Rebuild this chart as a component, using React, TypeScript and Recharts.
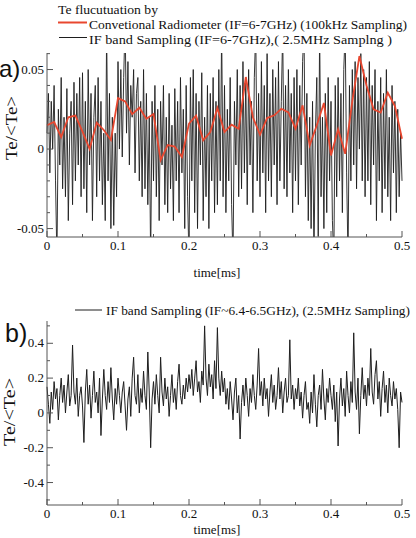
import React from "react";
import { LineChart, Line, XAxis, YAxis } from "recharts";

// panel a) IF band sampling, one value every 0.002 ms
const topNoise = [
  0.01, 0.035, -0.015, 0.03, 0.0, 0.04, -0.02, -0.07, 0.025, -0.01, 0.045, -0.025, 0.02, -0.03, 0.038, -0.045, 0.01, 0.03, -0.035, 0.042, -0.02, 0.035, -0.01, 0.045, -0.03,
  0.048, -0.025, 0.03, -0.04, 0.05, -0.01, 0.035, -0.045, 0.02, 0.04, -0.03, 0.045, -0.02, 0.03, -0.035, 0.01, -0.045, 0.075, -0.02, 0.035, -0.05, 0.02, -0.048, 0.01, -0.03,
  0.055, 0.0, 0.05, -0.005, 0.045, 0.08, 0.01, 0.055, -0.01, 0.04, 0.02, 0.05, -0.015, 0.035, 0.045, -0.02, 0.03, -0.03, 0.05, -0.025, 0.035, -0.035, 0.02, -0.07, 0.03,
  -0.02, 0.04, -0.03, 0.025, -0.045, 0.03, -0.01, 0.04, -0.035, 0.02, -0.04, 0.035, -0.025, 0.015, -0.045, 0.038, -0.02, 0.03, -0.04, 0.045, -0.015, 0.025, -0.05, 0.04, -0.03,
  -0.07, 0.045, -0.02, 0.05, -0.04, 0.035, -0.05, 0.03, -0.01, 0.048, -0.045, 0.02, -0.03, 0.04, -0.05, 0.035, -0.02, 0.045, -0.04, 0.03, -0.035, 0.05, -0.02, 0.075, -0.03,
  0.04, -0.04, 0.025, -0.02, 0.045, -0.035, -0.07, 0.03, -0.01, 0.05, -0.03, 0.04, -0.025, 0.055, -0.015, 0.045, -0.035, 0.05, -0.01, 0.03, -0.04, 0.045, 0.075, -0.02, 0.035,
  -0.03, 0.055, -0.015, 0.04, -0.04, 0.06, -0.02, 0.035, -0.03, 0.05, -0.01, 0.045, -0.035, 0.055, -0.02, 0.03, 0.075, -0.025, 0.04, -0.03, 0.05, -0.015, 0.035, -0.04, 0.045,
  -0.02, 0.05, -0.035, 0.04, -0.01, 0.055, 0.075, -0.03, 0.035, -0.045, 0.02, -0.05, 0.03, -0.07, 0.01, 0.045, -0.055, 0.075, -0.03, 0.02, -0.05, 0.035, -0.04, 0.045, -0.02,
  0.03, -0.045, -0.07, 0.04, -0.03, 0.045, -0.02, 0.035, -0.04, 0.05, 0.075, -0.015, -0.07, 0.04, -0.02, 0.05, -0.01, 0.055, -0.025, 0.045, 0.0, 0.06, -0.02, 0.05, -0.03,
  0.045, -0.02, 0.055, -0.035, 0.04, -0.01, 0.05, -0.045, 0.03, -0.02, 0.045, -0.04, 0.035, -0.025, 0.05, -0.03, 0.02, -0.045, 0.04, -0.015, 0.03, -0.04, 0.025, -0.03, 0.01, -0.02,
];

// panel a) conventional radiometer, one value every 0.01 ms
const radiometer = [
  0.015, 0.017, 0.0075, 0.02, 0.021, 0.011, 0.0, 0.0165, 0.012, 0.0057,
  0.032, 0.03, 0.022, 0.026, 0.019, 0.022, -0.007, 0.0025, 0.0015, -0.005,
  0.016, 0.021, 0.0055, 0.0107, 0.0258, 0.0107, 0.0153, 0.0128, 0.0453, 0.02,
  0.009, 0.0195, 0.0212, 0.0253, 0.023, 0.0128, 0.0275, 0.0023, 0.015, 0.029,
  -0.004, 0.0124, -0.003, 0.03, 0.0585, 0.04, 0.025, 0.023, 0.0354, 0.027, 0.0065,
];

// panel b) IF band sampling (6.4-6.5GHz), one value every 0.002 ms
const bottomNoise = [
  0.15, 0.05, -0.06, 0.12, 0.02, 0.18, 0.08, 0.14, -0.04, 0.1, 0.2, 0.06, 0.16, 0.0, 0.12, 0.22, 0.04, 0.1, 0.39, 0.12, 0.05, 0.2, -0.02, 0.1, 0.15,
  0.04, -0.17, 0.12, 0.25, 0.05, 0.16, -0.03, 0.1, 0.24, 0.06, 0.12, 0.0, 0.2, -0.13, 0.08, 0.25, 0.1, 0.02, 0.18, 0.06, 0.26, 0.08, -0.04, 0.14, 0.05,
  0.2, 0.1, 0.0, 0.12, 0.18, 0.04, -0.1, 0.08, 0.15, -0.02, 0.2, 0.32, 0.1, 0.05, 0.22, 0.0, 0.14, 0.06, 0.24, 0.1, 0.02, 0.35, 0.12, -0.2, 0.08,
  0.18, 0.05, 0.22, 0.1, 0.0, 0.32, 0.12, 0.04, 0.2, 0.08, 0.15, -0.02, 0.1, 0.22, 0.06, 0.14, 0.02, 0.18, 0.28, 0.1, 0.05, 0.16, 0.08, 0.2, 0.12,
  0.22, 0.14, 0.25, 0.1, 0.2, 0.3, 0.12, 0.18, 0.06, 0.24, 0.16, 0.5, 0.2, 0.1, 0.28, 0.15, 0.22, 0.08, 0.3, 0.14, 0.49, 0.2, 0.1, 0.24, 0.12,
  0.2, 0.05, 0.14, 0.02, 0.18, 0.08, -0.04, 0.12, 0.2, 0.0, 0.1, -0.15, 0.06, 0.16, 0.04, 0.2, 0.1, -0.02, 0.14, 0.06, 0.22, 0.1, 0.02, 0.16, 0.37,
  0.1, 0.18, 0.04, 0.2, 0.08, 0.14, -0.02, 0.12, 0.22, 0.06, 0.16, 0.02, 0.1, 0.26, 0.08, 0.18, 0.0, 0.12, 0.2, 0.06, 0.1, 0.42, 0.08, 0.16, 0.02,
  0.14, 0.08, 0.2, 0.04, 0.12, -0.03, 0.1, 0.18, 0.02, 0.06, -0.06, 0.12, 0.0, 0.22, 0.05, -0.08, 0.1, 0.16, 0.02, 0.25, 0.08, -0.04, 0.14, 0.06, 0.2,
  0.1, 0.02, 0.16, -0.05, 0.12, -0.19, 0.08, 0.2, 0.04, 0.14, -0.02, 0.24, 0.1, 0.0, 0.18, 0.06, 0.46, 0.12, 0.02, 0.2, -0.12, 0.1, 0.26, 0.08, 0.16,
  0.04, 0.2, 0.1, 0.37, 0.12, 0.05, 0.22, 0.3, 0.08, 0.18, -0.02, 0.14, 0.24, 0.06, 0.16, 0.0, 0.2, 0.1, 0.04, 0.18, 0.08, 0.14, 0.02, -0.2, 0.12, 0.06,
];

const timeTicks = [0, 0.05, 0.1, 0.15, 0.2, 0.25, 0.3, 0.35, 0.4, 0.45, 0.5];
const topYTicks = [-0.05, -0.04, -0.03, -0.02, -0.01, 0, 0.01, 0.02, 0.03, 0.04, 0.05, 0.06];
const bottomYTicks = [-0.5, -0.4, -0.3, -0.2, -0.1, 0, 0.1, 0.2, 0.3, 0.4, 0.5];

const noiseStep = 0.002;
const radStep = 0.01;

const topNoiseData = topNoise.map((v, i) => ({ t: +(i * noiseStep).toFixed(4), v }));
const radData = radiometer.map((v, i) => ({ t: +(i * radStep).toFixed(4), v }));
const bottomNoiseData = bottomNoise.map((v, i) => ({ t: +(i * noiseStep).toFixed(4), v }));

const SERIF = '"Liberation Serif", "Times New Roman", serif';
const SANS = '"Liberation Sans", Arial, sans-serif';
const AXIS = "#555";
const INK = "#1e1e1e";
const RED = "#e8472f";

const isMultiple = (v: number, step: number) =>
  Math.abs(v / step - Math.round(v / step)) < 1e-6;
const fmt = (v: number) => (Math.abs(v) < 1e-9 ? "0" : String(+v.toFixed(3)));

// inward tick marks, labels outside (labelStep null = marks only)
function makeTick(side: string, majorStep: number, labelStep: number | null) {
  return (props: any) => {
    const { x, y, payload } = props;
    const v = payload.value;
    const len = isMultiple(v, majorStep) ? 6 : 3;
    let x2 = x;
    let y2 = y;
    if (side === "bottom") y2 = y - len;
    else if (side === "top") y2 = y + len;
    else if (side === "left") x2 = x + len;
    else x2 = x - len;
    const show = labelStep !== null && isMultiple(v, labelStep);
    return (
      <g>
        <line x1={x} y1={y} x2={x2} y2={y2} stroke={AXIS} strokeWidth={1} />
        {show && side === "bottom" && (
          <text
            transform={`translate(${x},${y + 13}) scale(1,0.9)`}
            textAnchor="middle"
            fontFamily={SERIF}
            fontSize={13}
            fill="#111"
          >
            {fmt(v)}
          </text>
        )}
        {show && side === "left" && (
          <text
            transform={`translate(${x - 3},${y + 4}) scale(1,0.9)`}
            textAnchor="end"
            fontFamily={SERIF}
            fontSize={13}
            fill="#111"
          >
            {fmt(v)}
          </text>
        )}
      </g>
    );
  };
}

const Frame = ({ yTicks, yDomain, yMajor, yLabel }: any) => [
  <XAxis
    key="xb"
    xAxisId={0}
    type="number"
    dataKey="t"
    domain={[0, 0.5]}
    ticks={timeTicks}
    interval={0}
    height={33}
    tickSize={0}
    tickMargin={0}
    tickLine={false}
    axisLine={{ stroke: AXIS }}
    tick={makeTick("bottom", 0.1, 0.1)}
  />,
  <XAxis
    key="xt"
    xAxisId="top"
    orientation="top"
    type="number"
    dataKey="t"
    domain={[0, 0.5]}
    ticks={timeTicks}
    interval={0}
    height={0}
    tickSize={0}
    tickMargin={0}
    tickLine={false}
    axisLine={{ stroke: AXIS }}
    tick={makeTick("top", 0.1, null)}
  />,
  <YAxis
    key="yl"
    yAxisId={0}
    type="number"
    domain={yDomain}
    allowDataOverflow
    ticks={yTicks}
    interval={0}
    width={47}
    tickSize={0}
    tickMargin={0}
    tickLine={false}
    axisLine={{ stroke: AXIS }}
    tick={makeTick("left", yMajor, yLabel)}
  />,
  <YAxis
    key="yr"
    yAxisId="right"
    orientation="right"
    type="number"
    domain={yDomain}
    allowDataOverflow
    ticks={yTicks}
    interval={0}
    width={0}
    tickSize={0}
    tickMargin={0}
    tickLine={false}
    axisLine={{ stroke: AXIS }}
    tick={makeTick("right", yMajor, null)}
  />,
];

export default function App() {
  return (
    <div
      style={{
        position: "absolute",
        left: 0,
        top: 0,
        width: 416,
        height: 538,
        background: "#fff",
        overflow: "hidden",
      }}
    >
      <div style={{ position: "absolute", left: 0, top: 0 }}>
        <LineChart width={416} height={270} margin={{ top: 53, right: 14, bottom: 0, left: 0 }}>
          {Frame({ yTicks: topYTicks, yDomain: [-0.0553, 0.0604], yMajor: 0.05, yLabel: 0.05 })}
          <Line
            data={topNoiseData}
            dataKey="v"
            stroke={INK}
            strokeWidth={0.9}
            dot={false}
            isAnimationActive={false}
          />
          <Line
            data={radData}
            dataKey="v"
            stroke={RED}
            strokeWidth={1.8}
            dot={false}
            isAnimationActive={false}
          />
        </LineChart>
      </div>
      <div style={{ position: "absolute", left: 0, top: 280 }}>
        <LineChart width={416} height={258} margin={{ top: 41, right: 14, bottom: 0, left: 0 }}>
          {Frame({ yTicks: bottomYTicks, yDomain: [-0.529, 0.528], yMajor: 0.2, yLabel: 0.2 })}
          <Line
            data={bottomNoiseData}
            dataKey="v"
            stroke={INK}
            strokeWidth={1}
            dot={false}
            isAnimationActive={false}
          />
        </LineChart>
      </div>
      <svg
        width={416}
        height={538}
        style={{ position: "absolute", left: 0, top: 0, pointerEvents: "none" }}
      >
        <g fontFamily={SERIF} fill="#111">
          <text x={58} y={14} fontSize={13.5} textLength={100} lengthAdjust="spacingAndGlyphs">
            Te flucutuation by
          </text>
          <line x1={58} x2={87} y1={22.5} y2={22.5} stroke={RED} strokeWidth={2} />
          <text x={89} y={28.5} fontSize={13.5} textLength={318} lengthAdjust="spacingAndGlyphs">
            Convetional Radiometer (IF=6-7GHz) (100kHz Sampling)
          </text>
          <line x1={59} x2={87} y1={37.5} y2={37.5} stroke={INK} strokeWidth={1} />
          <text x={89} y={43.5} fontSize={13.5} textLength={303} lengthAdjust="spacingAndGlyphs">
            IF band Sampling (IF=6-7GHz),( 2.5MHz Samplng )
          </text>
          <line x1={75} x2={102} y1={310} y2={310} stroke={INK} strokeWidth={1} />
          <text x={106} y={314.5} fontSize={13} textLength={304} lengthAdjust="spacingAndGlyphs">
            IF band Sampling (IF~6.4-6.5GHz), (2.5MHz Sampling)
          </text>
          <text transform="translate(217,277) scale(1,0.9)" textAnchor="middle" fontSize={13}>
            time[ms]
          </text>
          <text transform="translate(217,534) scale(1,0.9)" textAnchor="middle" fontSize={13}>
            time[ms]
          </text>
          <text
            transform="translate(17,160) rotate(-90)"
            fontSize={16}
            textLength={64}
            lengthAdjust="spacingAndGlyphs"
          >
            Te/&lt;Te&gt;
          </text>
          <text
            transform="translate(15,446) rotate(-90)"
            fontSize={16}
            textLength={68}
            lengthAdjust="spacingAndGlyphs"
          >
            Te/&lt;Te&gt;
          </text>
        </g>
        <g fontFamily={SANS} fill="#111">
          <text x={-1} y={77} fontSize={24}>
            a)
          </text>
          <text x={5} y={342} fontSize={25}>
            b)
          </text>
        </g>
      </svg>
    </div>
  );
}
